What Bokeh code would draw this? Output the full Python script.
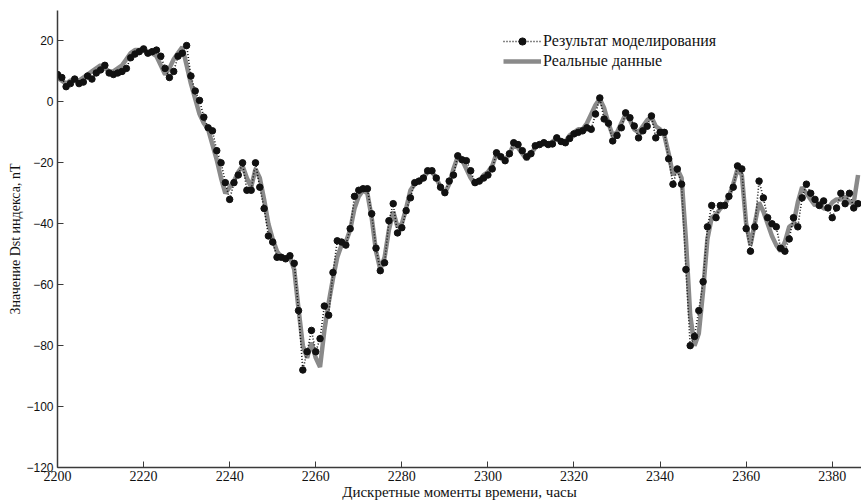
from bokeh.plotting import figure
from bokeh.models import Range1d, FixedTicker, Legend, LegendItem
from bokeh.embed import file_html
from bokeh.resources import INLINE

hours = list(range(2200, 2387))

real_data = [
    8, 7, 6, 7, 7, 7, 8, 9, 10, 11,
    12, 11, 10, 10, 11, 12, 14, 16, 17, 17,
    17, 16, 16, 15, 12, 9, 11, 14, 16, 18,
    12, 6, 1, -4, -7, -9, -14, -19, -25, -30,
    -28, -26, -23, -21, -25, -28, -22, -25, -32, -40,
    -45, -49, -51, -51, -51, -55, -68, -80, -84, -79,
    -84, -87, -75, -66, -58, -51, -47, -46, -42, -35,
    -31, -29, -30, -38, -49, -55, -51, -42, -36, -41,
    -40, -35, -29, -27, -26, -25, -23, -23, -25, -28,
    -30, -27, -22, -18, -19, -22, -25, -27, -26, -24,
    -23, -21, -17, -18, -19, -17, -14, -15, -17, -19,
    -17, -15, -14, -13, -14, -13, -12, -13, -13, -11,
    -10, -9, -9, -7, -4, -1, 1, -2, -7, -11,
    -10, -7, -4, -6, -9, -10, -8, -6, -5, -8,
    -9, -11, -17, -24, -22, -25, -45, -70, -80, -76,
    -62, -45, -38, -37, -35, -34, -31, -27, -22, -24,
    -40, -47, -40, -33, -36, -40, -44, -47, -49, -46,
    -41, -40, -33, -28, -30, -32, -34, -33, -35, -35,
    -33, -32, -32, -31, -33, -33, -24,
]

model_data = [
    9, 8, 5, 6, 7.5, 6, 6.5, 8.5, 7.5, 9.5,
    10.5, 12, 9.5, 9, 9.5, 10, 11, 14.5, 15.7, 16.5,
    17.4, 16, 16.5, 17, 15, 11, 8, 10, 15, 16,
    18.5, 8.5, 3.6, 0.5, -5, -8.5, -9.5, -16, -20, -26.5,
    -32, -26.5, -24, -20, -29, -29, -20, -28, -35, -44,
    -46, -51, -51, -51.5, -50.5, -53, -68.5, -88, -82, -75,
    -82, -77.7, -67, -70, -56, -45.6, -46, -47, -41.6, -31,
    -29, -28.5, -28.5, -36.7, -48, -55.4, -52.8, -39, -33.4, -43,
    -41.3, -35.7, -31.5, -26.5, -26, -25, -22.6, -22.6, -25, -28,
    -29.8, -26, -24, -17.7, -19, -19.3, -22.6, -26.5, -26, -25,
    -24, -22, -16.7, -18, -19.3, -17, -13.4, -14, -16, -18,
    -17, -14.4, -14, -13.4, -14, -13.8, -11.8, -13, -13.4, -12,
    -10.5, -10, -9.5, -8.5, -9, -4, 1.3, -5.6, -7, -12.8,
    -11, -8.5, -3.6, -5.2, -7.9, -11.8, -9.5, -8, -4.6, -11.8,
    -10, -10, -18.7, -27, -22, -27, -55, -80, -77, -68.5,
    -59, -41, -34, -38, -34, -34, -31, -28, -21, -22,
    -41.6, -49, -41, -26, -31.5, -38, -40, -41, -48, -49,
    -45, -38, -41, -31.5, -27, -30, -32, -34, -32.5, -34.8,
    -38, -34.8, -30, -33.4, -30, -34.8, -33.4,
]

x_ticks = [2200, 2220, 2240, 2260, 2280, 2300, 2320, 2340, 2360, 2380]
y_ticks = [-120, -100, -80, -60, -40, -20, 0, 20]

label_model = "Результат моделирования"
label_real = "Реальные данные"
x_title = "Дискретные моменты времени, часы"
y_title = "Значение Dst индекса, nT"

p = figure(width=861, height=504, output_backend="svg", toolbar_location=None,
           x_range=Range1d(2200, 2386.8), y_range=Range1d(-120, 30),
           min_border_top=10, min_border_left=57, min_border_right=0,
           min_border_bottom=37,
           background_fill_color="white", border_fill_color="white")
p.outline_line_color = None
p.xgrid.visible = False
p.ygrid.visible = False

r_real = p.line(hours, real_data, line_color="#8a8a8a", line_width=4.5)
r_model_line = p.line(hours, model_data, line_color="#111111", line_width=1.6,
                      line_dash="1 2")
r_model_pts = p.scatter(hours, model_data, size=6.5, marker="circle",
                        fill_color="#111111", line_color="#111111")

for ax in (p.xaxis[0], p.yaxis[0]):
    ax.axis_line_color = "#3a3a3a"
    ax.axis_line_width = 1.5
    ax.major_tick_line_color = "#3a3a3a"
    ax.major_tick_in = 6
    ax.major_tick_out = 0
    ax.minor_tick_line_color = None
    ax.major_label_text_color = "#111111"
    ax.axis_label_text_color = "#111111"
    ax.axis_label_text_font_style = "normal"
    ax.axis_label_text_font = "Liberation Serif"

p.xaxis[0].ticker = FixedTicker(ticks=x_ticks)
p.yaxis[0].ticker = FixedTicker(ticks=y_ticks)
p.xaxis[0].major_label_text_font = "Liberation Serif"
p.xaxis[0].major_label_text_font_size = "14px"
p.xaxis[0].major_label_standoff = 3
p.xaxis[0].axis_label = x_title
p.xaxis[0].axis_label_text_font_size = "15px"
p.xaxis[0].axis_label_standoff = 0
p.yaxis[0].major_label_text_font = "Liberation Sans"
p.yaxis[0].major_label_text_font_size = "12px"
p.yaxis[0].major_label_standoff = 4
p.yaxis[0].axis_label = y_title
p.yaxis[0].axis_label_text_font_size = "14px"
p.yaxis[0].axis_label_standoff = 0

legend = Legend(items=[
    LegendItem(label=label_model, renderers=[r_model_line, r_model_pts]),
    LegendItem(label=label_real, renderers=[r_real]),
], location=(446, 397))
legend.border_line_color = None
legend.background_fill_alpha = 0
legend.label_text_font = "Liberation Serif"
legend.label_text_font_size = "16px"
legend.label_text_color = "#111111"
legend.glyph_width = 38
legend.glyph_height = 18
legend.label_height = 18
legend.spacing = 2
legend.padding = 2
legend.margin = 0
legend.label_standoff = 2
p.add_layout(legend, "center")

open("out.html", "w").write(file_html(p, INLINE))
